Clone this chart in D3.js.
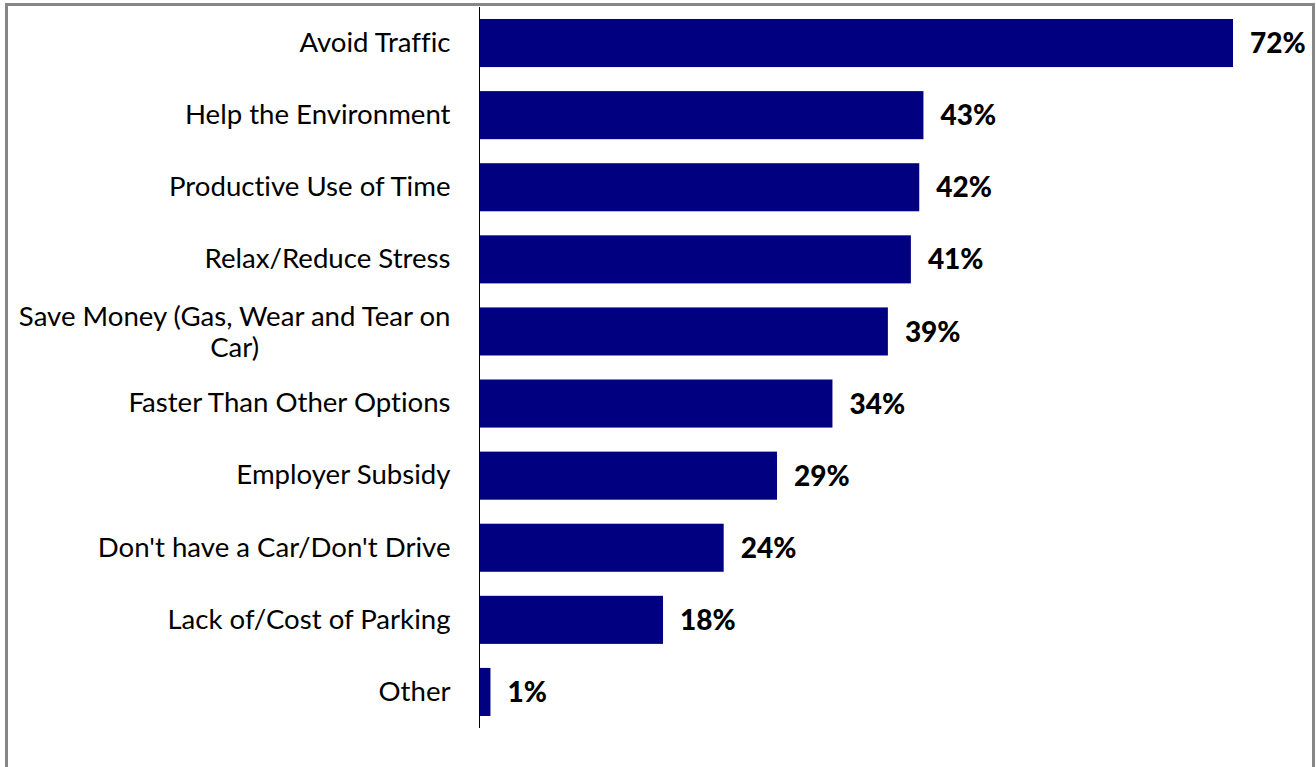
<!DOCTYPE html>
<html>
<head>
<meta charset="utf-8">
<script src="https://cdn.jsdelivr.net/npm/d3@7"></script>
<style>
  html, body { margin: 0; padding: 0; background: #fff; }
  svg { display: block; }
  text { font-variant-ligatures: none; }
</style>
</head>
<body>
<svg id="chart" width="1316" height="767"></svg>
<script>
// ---- data ----
const categories = [
  "Avoid Traffic",
  "Help the Environment",
  "Productive Use of Time",
  "Relax/Reduce Stress",
  "Save Money (Gas, Wear and Tear on Car)",
  "Faster Than Other Options",
  "Employer Subsidy",
  "Don't have a Car/Don't Drive",
  "Lack of/Cost of Parking",
  "Other"
];
const values = [72.0, 42.4, 42.0, 41.2, 39.0, 33.7, 28.4, 23.3, 17.5, 1.0];
const valueLabels = ["72%", "43%", "42%", "41%", "39%", "34%", "29%", "24%", "18%", "1%"];

// ---- layout ----
const axisX = 480;
const svg = d3.select("#chart");

// frame
svg.append("rect")
  .attr("x", 6.5).attr("y", 4.5)
  .attr("width", 1307).attr("height", 800)
  .attr("fill", "none")
  .attr("stroke", "#868686")
  .attr("stroke-width", 3);

const x = d3.scaleLinear().domain([0, 72]).range([axisX, 1233]);
const y = d3.scaleBand().domain(categories).range([7, 728])
  .paddingInner(1/3).paddingOuter(1/6);

// bars
svg.append("g").selectAll("rect")
  .data(categories)
  .join("rect")
  .attr("x", x(0))
  .attr("y", d => y(d))
  .attr("width", (d, i) => x(values[i]) - x(0))
  .attr("height", y.bandwidth())
  .attr("fill", "#000080");

// value labels
svg.append("g").selectAll("text")
  .data(categories)
  .join("text")
  .attr("x", (d, i) => x(values[i]) + 17)
  .attr("y", d => y(d) + y.bandwidth() / 2)
  .attr("dy", "0.36em")
  .attr("font-family", "Lato, 'Open Sans', sans-serif")
  .attr("font-weight", "900")
  .attr("font-size", 28)
  .attr("fill", "#000")
  .text((d, i) => valueLabels[i]);

// axis (no ticks)
const yAxis = d3.axisLeft(y).tickSize(0).tickPadding(29);
const gAxis = svg.append("g")
  .attr("transform", `translate(${axisX - 0.5},0)`)
  .call(yAxis);
gAxis.select(".domain")
  .attr("d", "M0,7V728")
  .attr("stroke", "#000")
  .attr("stroke-width", 1);
gAxis.selectAll(".tick text")
  .attr("font-family", "Lato, 'Open Sans', sans-serif")
  .attr("font-size", 27.6)
  .attr("fill", "#000");

// wrap long labels: lines centered within a right-aligned block
const maxW = 460;
gAxis.selectAll(".tick text").each(function(d) {
  const t = d3.select(this);
  const words = d.split(" ");
  const lines = [];
  let cur = [];
  t.text(null);
  const probe = t.append("tspan");
  words.forEach(w => {
    const test = cur.concat([w]).join(" ");
    probe.text(test);
    if (probe.node().getComputedTextLength() > maxW && cur.length) {
      lines.push(cur.join(" "));
      cur = [w];
    } else {
      cur.push(w);
    }
  });
  lines.push(cur.join(" "));
  probe.remove();
  if (lines.length === 1) {
    t.text(lines[0]);
    return;
  }
  const widths = lines.map(l => { const s = t.append("tspan").text(l); const w = s.node().getComputedTextLength(); s.remove(); return w; });
  const bw = d3.max(widths);
  const cx = -29 - bw / 2;
  const lh = 31;
  t.attr("text-anchor", "middle").attr("dy", null);
  lines.forEach((l, i) => {
    t.append("tspan")
      .attr("x", cx)
      .attr("y", (i - (lines.length - 1) / 2) * lh)
      .attr("dy", "0.35em")
      .text(l);
  });
});
</script>
</body>
</html>
